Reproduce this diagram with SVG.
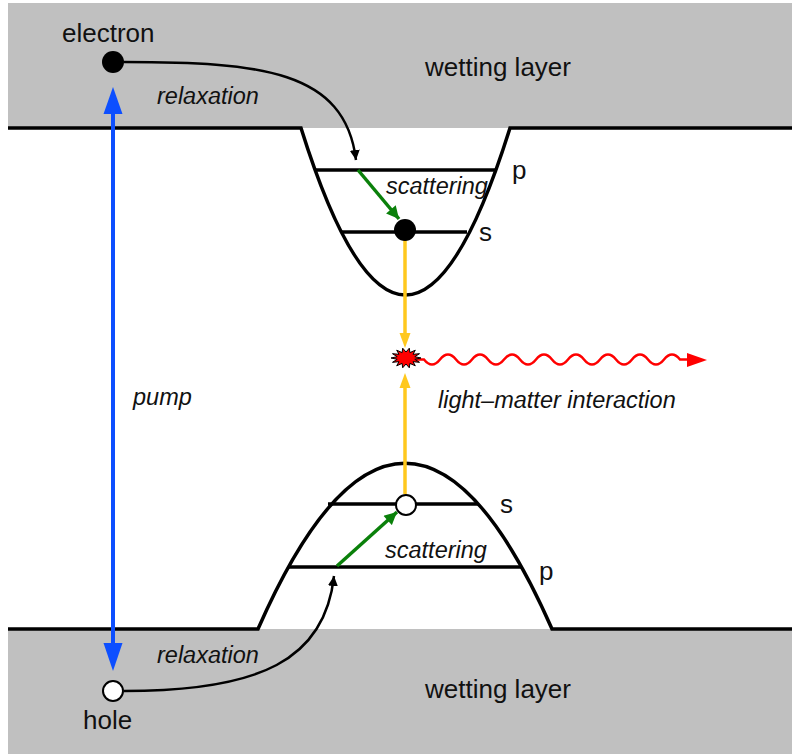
<svg xmlns="http://www.w3.org/2000/svg" width="792" height="754" viewBox="0 0 792 754">
<defs>
<style>
.band{fill:#c0c0c0;stroke:none}
.edge{fill:none;stroke:#000;stroke-width:3.5;stroke-linejoin:miter}
.lvl{stroke:#000;stroke-width:3.5}
.lbl{font-family:"Liberation Sans",Arial,sans-serif;font-size:26px;fill:#111}
.it{font-family:"Liberation Sans",Arial,sans-serif;font-size:23.5px;font-style:italic;fill:#111}
.relax{fill:none;stroke:#000;stroke-width:2.5}
.scat{stroke:#0a800a;stroke-width:3.5;fill:none}
.yel{stroke:#ffc81e;stroke-width:3.5;fill:none}
.pump{stroke:#0d4fff;stroke-width:4;fill:none}
</style>
<marker id="ablk" viewBox="0 0 10 10" refX="10" refY="5" markerWidth="4" markerHeight="4" orient="auto" markerUnits="strokeWidth">
<path d="M0,0 L10,5 L0,10 z" fill="#000"/>
</marker>
<marker id="agrn" viewBox="0 0 10 10" refX="10" refY="5" markerWidth="4.2" markerHeight="3.6" orient="auto" markerUnits="strokeWidth">
<path d="M0,0 L10,5 L0,10 z" fill="#0a800a"/>
</marker>
</defs>

<g id="wetting-layer-top">
<rect class="band" x="8" y="3" width="784" height="125"/>
<text class="lbl" x="425" y="76">wetting layer</text>
</g>
<g id="wetting-layer-bottom">
<rect class="band" x="8" y="629" width="784" height="125"/>
<text class="lbl" x="425" y="698">wetting layer</text>
</g>

<g id="conduction-band">
<path class="edge" d="M8,128 L301,128 Q405.5,462 510,128 L792,128"/>
<line class="lvl" x1="315" y1="170" x2="495" y2="170"/>
<line class="lvl" x1="342" y1="232" x2="467" y2="232"/>
<text class="lbl" x="512" y="179">p</text>
<text class="lbl" x="479" y="241">s</text>
</g>

<g id="valence-band">
<path class="edge" d="M8,629 L258,629 C355,408 455,408 552,629 L792,629"/>
<line class="lvl" x1="288" y1="567" x2="521" y2="567"/>
<line class="lvl" x1="328" y1="504" x2="478" y2="504"/>
<text class="lbl" x="500" y="513">s</text>
<text class="lbl" x="539" y="580">p</text>
</g>

<g id="connectors">
<path class="relax" d="M124,62 C260,62 345,70 356,160" marker-end="url(#ablk)"/>
<path class="relax" d="M124,691 C260,691 325,660 334,576" marker-end="url(#ablk)"/>
<line class="scat" x1="358" y1="170" x2="399" y2="219" marker-end="url(#agrn)"/>
<line class="scat" x1="337" y1="566" x2="397" y2="512" marker-end="url(#agrn)"/>
<line class="yel" x1="405" y1="240" x2="405" y2="336"/>
<path d="M399.5,333 L410.5,333 L405,348 z" fill="#ffc81e"/>
<line class="yel" x1="405" y1="494" x2="405" y2="386"/>
<path d="M399.5,388 L410.5,388 L405,373 z" fill="#ffc81e"/>
<line class="pump" x1="113" y1="110" x2="113" y2="647"/>
<path d="M103.5,114 L122.5,114 L113,87 z" fill="#0d4fff"/>
<path d="M103.5,643 L122.5,643 L113,671 z" fill="#0d4fff"/>
<path d="M416,359.5 L424,359.5 Q432,369.5 440,359.5 T456,359.5 T472,359.5 T488,359.5 T504,359.5 T520,359.5 T536,359.5 T552,359.5 T568,359.5 T584,359.5 T600,359.5 T616,359.5 T632,359.5 T648,359.5 T664,359.5 T680,359.5 L690,359.5" fill="none" stroke="#ff0000" stroke-width="2.5"/>
<path d="M687,353 L707,360 L687,367 z" fill="#ff0000"/>
</g>

<g id="emission">
<polygon points="421,358 414.8,359.3 419.5,362.3 413,361.7 415.3,365.8 409.9,363.4 409.3,367.8 406,364 402.7,367.8 402.1,363.4 396.7,365.8 399,361.7 392.5,362.3 397.2,359.3 391,358 397.2,356.7 392.5,353.7 399,354.3 396.7,350.2 402.1,352.6 402.7,348.2 406,352 409.3,348.2 409.9,352.6 415.3,350.2 413,354.3 419.5,353.7 414.8,356.7" fill="#ff0000" stroke="#000" stroke-width="1"/>
</g>

<g id="electron-wl">
<circle cx="113" cy="62" r="11" fill="#000"/>
<text class="lbl" x="62" y="42">electron</text>
</g>
<g id="electron-s">
<circle cx="405" cy="230" r="11" fill="#000"/>
</g>
<g id="hole-s">
<circle cx="406" cy="505" r="10" fill="#fff" stroke="#000" stroke-width="2"/>
</g>
<g id="hole-wl">
<circle cx="113" cy="691" r="10" fill="#fff" stroke="#000" stroke-width="2"/>
<text class="lbl" x="83" y="729">hole</text>
</g>

<g id="labels">
<text class="it" x="157" y="104">relaxation</text>
<text class="it" x="157" y="663">relaxation</text>
<text class="it" x="386" y="194">scattering</text>
<text class="it" x="385" y="558">scattering</text>
<text class="it" x="133" y="405">pump</text>
<text class="it" x="438" y="408">light–matter interaction</text>
</g>
</svg>
